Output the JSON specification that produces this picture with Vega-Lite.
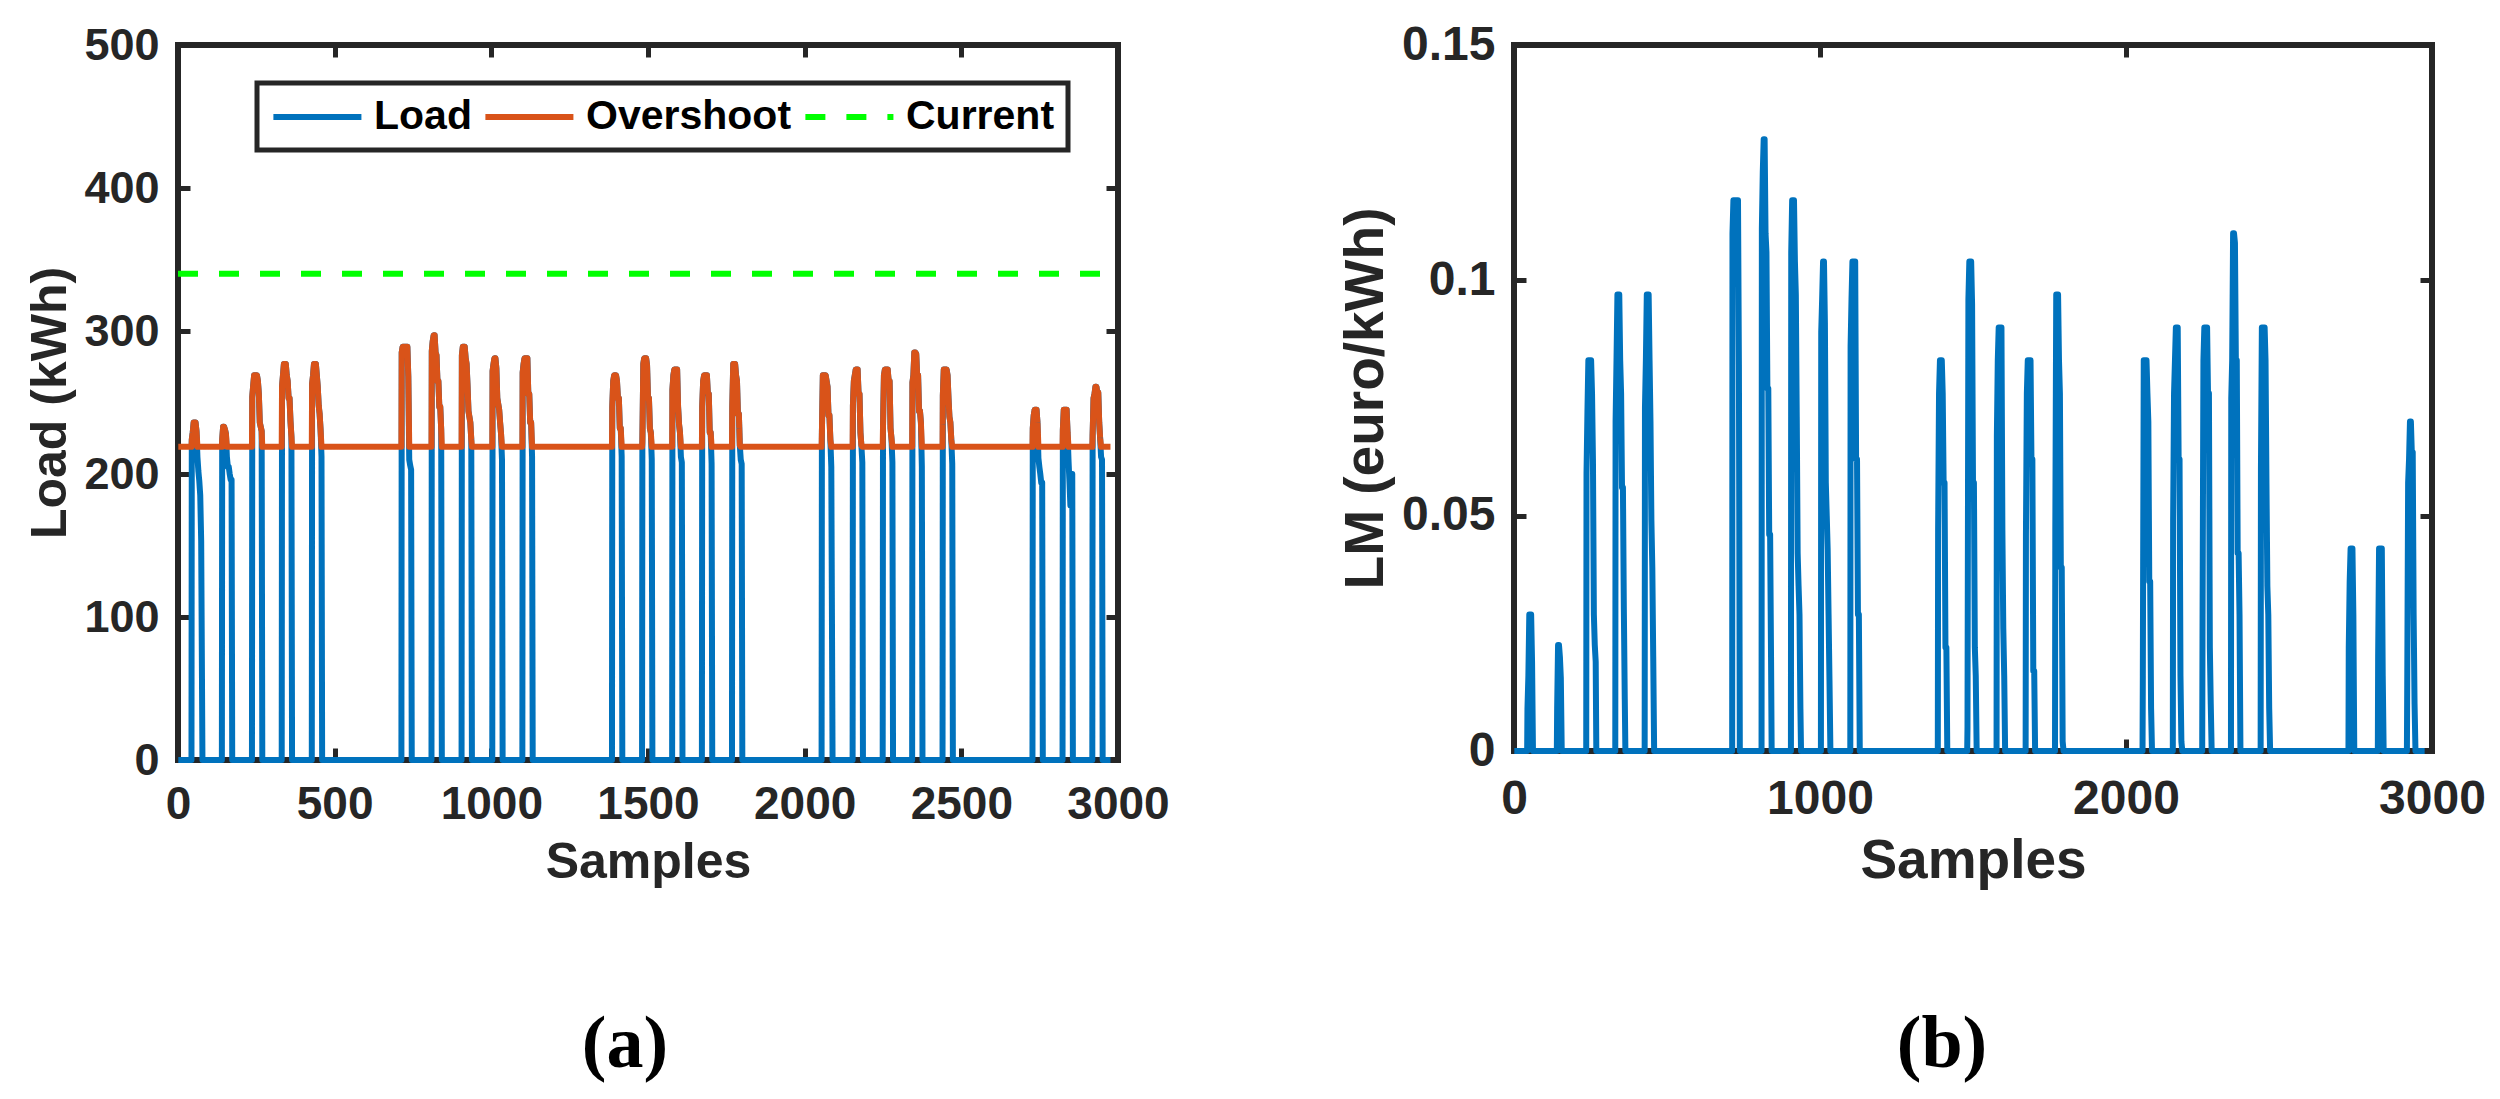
{
  "$schema": "https://vega.github.io/schema/vega-lite/v6.json",
  "background": "white",
  "padding": {"left": 22, "top": 18, "right": 5, "bottom": 5},
  "spacing": 396,
  "bounds": "flush",
  "datasets": {
    "cur": [
      {"s": 0, "series": "Current", "value": 340},
      {"s": 3000, "series": "Current", "value": 340}
    ],
    "main": [
      {"s":1,"Load":0,"Overshoot":219,"LM":0},
      {"s":43,"Load":0,"Overshoot":219,"LM":0},
      {"s":44,"Load":224,"Overshoot":224,"LM":0.009},
      {"s":47,"Load":229,"Overshoot":229,"LM":0.016},
      {"s":50,"Load":236,"Overshoot":236,"LM":0.029},
      {"s":53,"Load":236,"Overshoot":236,"LM":0.029},
      {"s":56,"Load":236,"Overshoot":236,"LM":0.029},
      {"s":59,"Load":230,"Overshoot":230,"LM":0.019},
      {"s":62,"Load":212,"Overshoot":219,"LM":0},
      {"s":65,"Load":202,"Overshoot":219,"LM":0},
      {"s":68,"Load":195,"Overshoot":219,"LM":0},
      {"s":71,"Load":185,"Overshoot":219,"LM":0},
      {"s":74,"Load":153,"Overshoot":219,"LM":0},
      {"s":78,"Load":0,"Overshoot":219,"LM":0},
      {"s":140,"Load":0,"Overshoot":219,"LM":0},
      {"s":141,"Load":224,"Overshoot":224,"LM":0.009},
      {"s":144,"Load":233,"Overshoot":233,"LM":0.0225},
      {"s":147,"Load":233,"Overshoot":233,"LM":0.0225},
      {"s":150,"Load":231,"Overshoot":231,"LM":0.02},
      {"s":153,"Load":228,"Overshoot":228,"LM":0.0156},
      {"s":156,"Load":212,"Overshoot":219,"LM":0},
      {"s":159,"Load":205,"Overshoot":219,"LM":0},
      {"s":162,"Load":205,"Overshoot":219,"LM":0},
      {"s":165,"Load":200,"Overshoot":219,"LM":0},
      {"s":168,"Load":196,"Overshoot":219,"LM":0},
      {"s":171,"Load":196,"Overshoot":219,"LM":0},
      {"s":173,"Load":0,"Overshoot":219,"LM":0},
      {"s":236,"Load":0,"Overshoot":219,"LM":0},
      {"s":237,"Load":254,"Overshoot":254,"LM":0.059},
      {"s":240,"Load":262,"Overshoot":262,"LM":0.072},
      {"s":243,"Load":269,"Overshoot":269,"LM":0.083},
      {"s":246,"Load":269,"Overshoot":269,"LM":0.083},
      {"s":249,"Load":269,"Overshoot":269,"LM":0.083},
      {"s":252,"Load":269,"Overshoot":269,"LM":0.083},
      {"s":255,"Load":265,"Overshoot":265,"LM":0.076},
      {"s":258,"Load":256,"Overshoot":256,"LM":0.062},
      {"s":261,"Load":236,"Overshoot":236,"LM":0.029},
      {"s":264,"Load":233,"Overshoot":233,"LM":0.0225},
      {"s":267,"Load":230,"Overshoot":230,"LM":0.019},
      {"s":269,"Load":0,"Overshoot":219,"LM":0},
      {"s":331,"Load":0,"Overshoot":219,"LM":0},
      {"s":332,"Load":261,"Overshoot":261,"LM":0.07},
      {"s":335,"Load":269,"Overshoot":269,"LM":0.083},
      {"s":338,"Load":277,"Overshoot":277,"LM":0.097},
      {"s":341,"Load":277,"Overshoot":277,"LM":0.097},
      {"s":344,"Load":277,"Overshoot":277,"LM":0.097},
      {"s":347,"Load":269,"Overshoot":269,"LM":0.083},
      {"s":350,"Load":265,"Overshoot":265,"LM":0.076},
      {"s":353,"Load":253,"Overshoot":253,"LM":0.056},
      {"s":356,"Load":253,"Overshoot":253,"LM":0.056},
      {"s":359,"Load":237,"Overshoot":237,"LM":0.03},
      {"s":362,"Load":226,"Overshoot":226,"LM":0.011},
      {"s":364,"Load":0,"Overshoot":219,"LM":0},
      {"s":427,"Load":0,"Overshoot":219,"LM":0},
      {"s":428,"Load":263,"Overshoot":263,"LM":0.073},
      {"s":431,"Load":269,"Overshoot":269,"LM":0.083},
      {"s":434,"Load":277,"Overshoot":277,"LM":0.097},
      {"s":437,"Load":277,"Overshoot":277,"LM":0.097},
      {"s":440,"Load":277,"Overshoot":277,"LM":0.097},
      {"s":443,"Load":269,"Overshoot":269,"LM":0.083},
      {"s":446,"Load":261,"Overshoot":261,"LM":0.07},
      {"s":449,"Load":248,"Overshoot":248,"LM":0.049},
      {"s":452,"Load":242,"Overshoot":242,"LM":0.039},
      {"s":455,"Load":231,"Overshoot":231,"LM":0.02},
      {"s":458,"Load":212,"Overshoot":219,"LM":0},
      {"s":460,"Load":0,"Overshoot":219,"LM":0},
      {"s":713,"Load":0,"Overshoot":219,"LM":0},
      {"s":714,"Load":285,"Overshoot":285,"LM":0.11},
      {"s":717,"Load":289,"Overshoot":289,"LM":0.117},
      {"s":720,"Load":289,"Overshoot":289,"LM":0.117},
      {"s":723,"Load":289,"Overshoot":289,"LM":0.117},
      {"s":726,"Load":289,"Overshoot":289,"LM":0.117},
      {"s":729,"Load":289,"Overshoot":289,"LM":0.117},
      {"s":732,"Load":289,"Overshoot":289,"LM":0.117},
      {"s":735,"Load":268,"Overshoot":268,"LM":0.082},
      {"s":738,"Load":210,"Overshoot":219,"LM":0},
      {"s":741,"Load":206,"Overshoot":219,"LM":0},
      {"s":744,"Load":203,"Overshoot":219,"LM":0},
      {"s":746,"Load":0,"Overshoot":219,"LM":0},
      {"s":809,"Load":0,"Overshoot":219,"LM":0},
      {"s":810,"Load":286,"Overshoot":286,"LM":0.111},
      {"s":813,"Load":293,"Overshoot":293,"LM":0.123},
      {"s":816,"Load":297,"Overshoot":297,"LM":0.13},
      {"s":819,"Load":297,"Overshoot":297,"LM":0.13},
      {"s":822,"Load":285,"Overshoot":285,"LM":0.11},
      {"s":825,"Load":283,"Overshoot":283,"LM":0.106},
      {"s":828,"Load":265,"Overshoot":265,"LM":0.077},
      {"s":831,"Load":265,"Overshoot":265,"LM":0.077},
      {"s":834,"Load":247,"Overshoot":247,"LM":0.046},
      {"s":837,"Load":247,"Overshoot":247,"LM":0.046},
      {"s":840,"Load":231,"Overshoot":231,"LM":0.02},
      {"s":842,"Load":0,"Overshoot":219,"LM":0},
      {"s":905,"Load":0,"Overshoot":219,"LM":0},
      {"s":906,"Load":283,"Overshoot":283,"LM":0.106},
      {"s":909,"Load":289,"Overshoot":289,"LM":0.117},
      {"s":912,"Load":289,"Overshoot":289,"LM":0.117},
      {"s":915,"Load":289,"Overshoot":289,"LM":0.117},
      {"s":918,"Load":281,"Overshoot":281,"LM":0.104},
      {"s":921,"Load":277,"Overshoot":277,"LM":0.097},
      {"s":924,"Load":262,"Overshoot":262,"LM":0.071},
      {"s":927,"Load":244,"Overshoot":244,"LM":0.042},
      {"s":930,"Load":240,"Overshoot":240,"LM":0.035},
      {"s":933,"Load":236,"Overshoot":236,"LM":0.029},
      {"s":936,"Load":224,"Overshoot":224,"LM":0.009},
      {"s":938,"Load":0,"Overshoot":219,"LM":0},
      {"s":1003,"Load":0,"Overshoot":219,"LM":0},
      {"s":1004,"Load":272,"Overshoot":272,"LM":0.089},
      {"s":1007,"Load":277,"Overshoot":277,"LM":0.096},
      {"s":1010,"Load":281,"Overshoot":281,"LM":0.104},
      {"s":1013,"Load":281,"Overshoot":281,"LM":0.104},
      {"s":1016,"Load":274,"Overshoot":274,"LM":0.091},
      {"s":1019,"Load":253,"Overshoot":253,"LM":0.057},
      {"s":1022,"Load":249,"Overshoot":249,"LM":0.05},
      {"s":1025,"Load":245,"Overshoot":245,"LM":0.043},
      {"s":1028,"Load":236,"Overshoot":236,"LM":0.029},
      {"s":1031,"Load":228,"Overshoot":228,"LM":0.015},
      {"s":1034,"Load":210,"Overshoot":219,"LM":0},
      {"s":1036,"Load":0,"Overshoot":219,"LM":0},
      {"s":1099,"Load":0,"Overshoot":219,"LM":0},
      {"s":1100,"Load":271,"Overshoot":271,"LM":0.086},
      {"s":1103,"Load":277,"Overshoot":277,"LM":0.096},
      {"s":1106,"Load":281,"Overshoot":281,"LM":0.104},
      {"s":1109,"Load":281,"Overshoot":281,"LM":0.104},
      {"s":1112,"Load":281,"Overshoot":281,"LM":0.104},
      {"s":1115,"Load":281,"Overshoot":281,"LM":0.104},
      {"s":1118,"Load":256,"Overshoot":256,"LM":0.062},
      {"s":1121,"Load":256,"Overshoot":256,"LM":0.062},
      {"s":1124,"Load":236,"Overshoot":236,"LM":0.029},
      {"s":1127,"Load":236,"Overshoot":236,"LM":0.029},
      {"s":1130,"Load":212,"Overshoot":219,"LM":0},
      {"s":1132,"Load":0,"Overshoot":219,"LM":0},
      {"s":1385,"Load":0,"Overshoot":219,"LM":0},
      {"s":1386,"Load":247,"Overshoot":247,"LM":0.047},
      {"s":1389,"Load":265,"Overshoot":265,"LM":0.076},
      {"s":1392,"Load":269,"Overshoot":269,"LM":0.083},
      {"s":1395,"Load":269,"Overshoot":269,"LM":0.083},
      {"s":1398,"Load":269,"Overshoot":269,"LM":0.083},
      {"s":1401,"Load":265,"Overshoot":265,"LM":0.076},
      {"s":1404,"Load":253,"Overshoot":253,"LM":0.057},
      {"s":1407,"Load":253,"Overshoot":253,"LM":0.057},
      {"s":1410,"Load":232,"Overshoot":232,"LM":0.022},
      {"s":1413,"Load":232,"Overshoot":232,"LM":0.022},
      {"s":1416,"Load":212,"Overshoot":219,"LM":0},
      {"s":1418,"Load":0,"Overshoot":219,"LM":0},
      {"s":1481,"Load":0,"Overshoot":219,"LM":0},
      {"s":1482,"Load":222,"Overshoot":222,"LM":0.005},
      {"s":1485,"Load":277,"Overshoot":277,"LM":0.096},
      {"s":1488,"Load":281,"Overshoot":281,"LM":0.104},
      {"s":1491,"Load":281,"Overshoot":281,"LM":0.104},
      {"s":1494,"Load":281,"Overshoot":281,"LM":0.104},
      {"s":1497,"Load":276,"Overshoot":276,"LM":0.095},
      {"s":1500,"Load":253,"Overshoot":253,"LM":0.057},
      {"s":1503,"Load":253,"Overshoot":253,"LM":0.057},
      {"s":1506,"Load":232,"Overshoot":232,"LM":0.022},
      {"s":1509,"Load":229,"Overshoot":229,"LM":0.016},
      {"s":1512,"Load":210,"Overshoot":219,"LM":0},
      {"s":1514,"Load":0,"Overshoot":219,"LM":0},
      {"s":1577,"Load":0,"Overshoot":219,"LM":0},
      {"s":1578,"Load":259,"Overshoot":259,"LM":0.067},
      {"s":1581,"Load":269,"Overshoot":269,"LM":0.083},
      {"s":1584,"Load":273,"Overshoot":273,"LM":0.09},
      {"s":1587,"Load":273,"Overshoot":273,"LM":0.09},
      {"s":1590,"Load":273,"Overshoot":273,"LM":0.09},
      {"s":1593,"Load":273,"Overshoot":273,"LM":0.09},
      {"s":1596,"Load":247,"Overshoot":247,"LM":0.047},
      {"s":1599,"Load":235,"Overshoot":235,"LM":0.026},
      {"s":1602,"Load":229,"Overshoot":229,"LM":0.016},
      {"s":1605,"Load":212,"Overshoot":219,"LM":0},
      {"s":1608,"Load":208,"Overshoot":219,"LM":0},
      {"s":1610,"Load":0,"Overshoot":219,"LM":0},
      {"s":1672,"Load":0,"Overshoot":219,"LM":0},
      {"s":1673,"Load":247,"Overshoot":247,"LM":0.046},
      {"s":1676,"Load":265,"Overshoot":265,"LM":0.076},
      {"s":1679,"Load":269,"Overshoot":269,"LM":0.083},
      {"s":1682,"Load":269,"Overshoot":269,"LM":0.083},
      {"s":1685,"Load":269,"Overshoot":269,"LM":0.083},
      {"s":1688,"Load":269,"Overshoot":269,"LM":0.083},
      {"s":1691,"Load":256,"Overshoot":256,"LM":0.062},
      {"s":1694,"Load":256,"Overshoot":256,"LM":0.062},
      {"s":1697,"Load":229,"Overshoot":229,"LM":0.017},
      {"s":1700,"Load":229,"Overshoot":229,"LM":0.017},
      {"s":1703,"Load":207,"Overshoot":219,"LM":0},
      {"s":1705,"Load":0,"Overshoot":219,"LM":0},
      {"s":1768,"Load":0,"Overshoot":219,"LM":0},
      {"s":1769,"Load":247,"Overshoot":247,"LM":0.047},
      {"s":1772,"Load":277,"Overshoot":277,"LM":0.097},
      {"s":1775,"Load":277,"Overshoot":277,"LM":0.097},
      {"s":1778,"Load":277,"Overshoot":277,"LM":0.097},
      {"s":1781,"Load":269,"Overshoot":269,"LM":0.083},
      {"s":1784,"Load":265,"Overshoot":265,"LM":0.076},
      {"s":1787,"Load":242,"Overshoot":242,"LM":0.039},
      {"s":1790,"Load":242,"Overshoot":242,"LM":0.039},
      {"s":1793,"Load":220,"Overshoot":220,"LM":0.002},
      {"s":1796,"Load":210,"Overshoot":219,"LM":0},
      {"s":1799,"Load":207,"Overshoot":219,"LM":0},
      {"s":1801,"Load":0,"Overshoot":219,"LM":0},
      {"s":2054,"Load":0,"Overshoot":219,"LM":0},
      {"s":2055,"Load":229,"Overshoot":229,"LM":0.016},
      {"s":2058,"Load":269,"Overshoot":269,"LM":0.083},
      {"s":2061,"Load":269,"Overshoot":269,"LM":0.083},
      {"s":2064,"Load":269,"Overshoot":269,"LM":0.083},
      {"s":2067,"Load":269,"Overshoot":269,"LM":0.083},
      {"s":2070,"Load":265,"Overshoot":265,"LM":0.076},
      {"s":2073,"Load":261,"Overshoot":261,"LM":0.07},
      {"s":2076,"Load":241,"Overshoot":241,"LM":0.036},
      {"s":2079,"Load":241,"Overshoot":241,"LM":0.036},
      {"s":2082,"Load":224,"Overshoot":224,"LM":0.009},
      {"s":2085,"Load":205,"Overshoot":219,"LM":0},
      {"s":2089,"Load":0,"Overshoot":219,"LM":0},
      {"s":2153,"Load":0,"Overshoot":219,"LM":0},
      {"s":2154,"Load":248,"Overshoot":248,"LM":0.049},
      {"s":2157,"Load":265,"Overshoot":265,"LM":0.076},
      {"s":2160,"Load":269,"Overshoot":269,"LM":0.083},
      {"s":2163,"Load":273,"Overshoot":273,"LM":0.09},
      {"s":2166,"Load":273,"Overshoot":273,"LM":0.09},
      {"s":2169,"Load":273,"Overshoot":273,"LM":0.09},
      {"s":2172,"Load":256,"Overshoot":256,"LM":0.062},
      {"s":2175,"Load":256,"Overshoot":256,"LM":0.062},
      {"s":2178,"Load":229,"Overshoot":229,"LM":0.016},
      {"s":2181,"Load":220,"Overshoot":220,"LM":0.002},
      {"s":2184,"Load":208,"Overshoot":219,"LM":0},
      {"s":2186,"Load":0,"Overshoot":219,"LM":0},
      {"s":2249,"Load":0,"Overshoot":219,"LM":0},
      {"s":2250,"Load":233,"Overshoot":233,"LM":0.024},
      {"s":2253,"Load":269,"Overshoot":269,"LM":0.083},
      {"s":2256,"Load":273,"Overshoot":273,"LM":0.09},
      {"s":2259,"Load":273,"Overshoot":273,"LM":0.09},
      {"s":2262,"Load":273,"Overshoot":273,"LM":0.09},
      {"s":2265,"Load":273,"Overshoot":273,"LM":0.09},
      {"s":2268,"Load":265,"Overshoot":265,"LM":0.076},
      {"s":2271,"Load":265,"Overshoot":265,"LM":0.076},
      {"s":2274,"Load":232,"Overshoot":232,"LM":0.022},
      {"s":2277,"Load":225,"Overshoot":225,"LM":0.01},
      {"s":2280,"Load":208,"Overshoot":219,"LM":0},
      {"s":2282,"Load":0,"Overshoot":219,"LM":0},
      {"s":2343,"Load":0,"Overshoot":219,"LM":0},
      {"s":2344,"Load":264,"Overshoot":264,"LM":0.075},
      {"s":2347,"Load":269,"Overshoot":269,"LM":0.083},
      {"s":2350,"Load":285,"Overshoot":285,"LM":0.11},
      {"s":2353,"Load":285,"Overshoot":285,"LM":0.11},
      {"s":2356,"Load":284,"Overshoot":284,"LM":0.108},
      {"s":2359,"Load":269,"Overshoot":269,"LM":0.083},
      {"s":2362,"Load":269,"Overshoot":269,"LM":0.083},
      {"s":2365,"Load":244,"Overshoot":244,"LM":0.042},
      {"s":2368,"Load":244,"Overshoot":244,"LM":0.042},
      {"s":2371,"Load":236,"Overshoot":236,"LM":0.029},
      {"s":2374,"Load":205,"Overshoot":219,"LM":0},
      {"s":2376,"Load":0,"Overshoot":219,"LM":0},
      {"s":2440,"Load":0,"Overshoot":219,"LM":0},
      {"s":2441,"Load":255,"Overshoot":255,"LM":0.06},
      {"s":2444,"Load":273,"Overshoot":273,"LM":0.09},
      {"s":2447,"Load":273,"Overshoot":273,"LM":0.09},
      {"s":2450,"Load":273,"Overshoot":273,"LM":0.09},
      {"s":2453,"Load":273,"Overshoot":273,"LM":0.09},
      {"s":2456,"Load":269,"Overshoot":269,"LM":0.083},
      {"s":2459,"Load":253,"Overshoot":253,"LM":0.057},
      {"s":2462,"Load":240,"Overshoot":240,"LM":0.035},
      {"s":2465,"Load":236,"Overshoot":236,"LM":0.029},
      {"s":2468,"Load":224,"Overshoot":224,"LM":0.009},
      {"s":2471,"Load":207,"Overshoot":219,"LM":0},
      {"s":2473,"Load":0,"Overshoot":219,"LM":0},
      {"s":2727,"Load":0,"Overshoot":219,"LM":0},
      {"s":2728,"Load":232,"Overshoot":232,"LM":0.022},
      {"s":2731,"Load":241,"Overshoot":241,"LM":0.036},
      {"s":2734,"Load":245,"Overshoot":245,"LM":0.043},
      {"s":2737,"Load":245,"Overshoot":245,"LM":0.043},
      {"s":2740,"Load":245,"Overshoot":245,"LM":0.043},
      {"s":2743,"Load":236,"Overshoot":236,"LM":0.029},
      {"s":2746,"Load":211,"Overshoot":219,"LM":0},
      {"s":2749,"Load":205,"Overshoot":219,"LM":0},
      {"s":2752,"Load":200,"Overshoot":219,"LM":0},
      {"s":2755,"Load":194,"Overshoot":219,"LM":0},
      {"s":2758,"Load":194,"Overshoot":219,"LM":0},
      {"s":2760,"Load":0,"Overshoot":219,"LM":0},
      {"s":2823,"Load":0,"Overshoot":219,"LM":0},
      {"s":2824,"Load":231,"Overshoot":231,"LM":0.02},
      {"s":2827,"Load":245,"Overshoot":245,"LM":0.043},
      {"s":2830,"Load":245,"Overshoot":245,"LM":0.043},
      {"s":2833,"Load":245,"Overshoot":245,"LM":0.043},
      {"s":2836,"Load":245,"Overshoot":245,"LM":0.043},
      {"s":2839,"Load":229,"Overshoot":229,"LM":0.016},
      {"s":2842,"Load":210,"Overshoot":219,"LM":0},
      {"s":2845,"Load":195,"Overshoot":219,"LM":0},
      {"s":2848,"Load":178,"Overshoot":219,"LM":0},
      {"s":2851,"Load":190,"Overshoot":219,"LM":0},
      {"s":2854,"Load":200,"Overshoot":219,"LM":0},
      {"s":2856,"Load":0,"Overshoot":219,"LM":0},
      {"s":2918,"Load":0,"Overshoot":219,"LM":0},
      {"s":2919,"Load":227,"Overshoot":227,"LM":0.013},
      {"s":2922,"Load":253,"Overshoot":253,"LM":0.057},
      {"s":2925,"Load":256,"Overshoot":256,"LM":0.062},
      {"s":2928,"Load":261,"Overshoot":261,"LM":0.07},
      {"s":2931,"Load":261,"Overshoot":261,"LM":0.07},
      {"s":2934,"Load":257,"Overshoot":257,"LM":0.0635},
      {"s":2937,"Load":257,"Overshoot":257,"LM":0.0635},
      {"s":2940,"Load":236,"Overshoot":236,"LM":0.029},
      {"s":2943,"Load":225,"Overshoot":225,"LM":0.01},
      {"s":2946,"Load":212,"Overshoot":219,"LM":0},
      {"s":2949,"Load":210,"Overshoot":219,"LM":0},
      {"s":2951,"Load":0,"Overshoot":219,"LM":0},
      {"s":2976,"Load":0,"Overshoot":219,"LM":0}
    ]
  },
  "hconcat": [
    {
      "width": 940,
      "height": 715,
      "title": {"text": "(a)", "orient": "bottom", "frame": "group", "anchor": "middle", "offset": 122, "dx": -23, "font": "Liberation Serif", "fontSize": 74, "fontWeight": "bold", "color": "black"},
      "layer": [
        {
          "data": {"name": "main"},
          "transform": [{"fold": ["Load", "Overshoot"], "as": ["series", "value"]}],
          "mark": {"type": "line", "strokeWidth": 6, "strokeJoin": "round"},
          "encoding": {
            "x": {"field": "s", "type": "quantitative", "scale": {"domain": [0, 3000], "nice": false},
              "axis": {"orient": "bottom", "values": [0, 500, 1000, 1500, 2000, 2500, 3000], "format": "d", "title": "Samples", "labelFontSize": 46, "titleFontSize": 50, "labelPadding": 34, "titlePadding": 10}},
            "y": {"field": "value", "type": "quantitative", "scale": {"domain": [0, 500], "nice": false},
              "axis": {"orient": "left", "values": [0, 100, 200, 300, 400, 500], "title": "Load (kWh)", "labelFontSize": 45, "titleFontSize": 50, "labelPadding": 31, "titlePadding": 8}},
            "color": {"field": "series", "type": "nominal", "scale": {"domain": ["Load", "Overshoot", "Current"], "range": ["#0072BD", "#D95319", "#00FF00"]},
              "legend": {"orient": "none", "legendX": 79, "legendY": 38, "direction": "horizontal", "columns": 3, "title": null}},
            "strokeDash": {"field": "series", "type": "nominal", "scale": {"domain": ["Load", "Overshoot", "Current"], "range": [[1, 0], [1, 0], [20, 21]]},
              "legend": {"orient": "none", "legendX": 79, "legendY": 38, "direction": "horizontal", "columns": 3, "title": null}}
          }
        },
        {
          "data": {"name": "cur"},
          "mark": {"type": "line", "strokeWidth": 6},
          "encoding": {
            "x": {"field": "s", "type": "quantitative",
              "axis": {"orient": "top", "values": [0, 500, 1000, 1500, 2000, 2500, 3000], "labels": false, "title": null}},
            "y": {"field": "value", "type": "quantitative",
              "axis": {"orient": "right", "values": [0, 100, 200, 300, 400, 500], "labels": false, "title": null}},
            "color": {"field": "series", "type": "nominal"},
            "strokeDash": {"field": "series", "type": "nominal"}
          }
        }
      ]
    },
    {
      "width": 918,
      "height": 706,
      "title": {"text": "(b)", "orient": "bottom", "frame": "group", "anchor": "middle", "offset": 121, "dx": -31, "font": "Liberation Serif", "fontSize": 74, "fontWeight": "bold", "color": "black"},
      "data": {"name": "main"},
      "layer": [
        {
          "mark": {"type": "line", "strokeWidth": 6, "strokeJoin": "round", "color": "#0072BD"},
          "encoding": {
            "x": {"field": "s", "type": "quantitative", "scale": {"domain": [0, 3000], "nice": false},
              "axis": {"orient": "bottom", "values": [0, 1000, 2000, 3000], "format": "d", "title": "Samples", "labelFontSize": 48, "titleFontSize": 55, "labelPadding": 36, "titlePadding": 11}},
            "y": {"field": "LM", "type": "quantitative", "scale": {"domain": [0, 0.15], "nice": false},
              "axis": {"orient": "left", "values": [0, 0.05, 0.1, 0.15], "labelExpr": "'' + datum.value", "title": "LM (euro/kWh)", "labelFontSize": 48, "titleFontSize": 55, "labelPadding": 31, "titlePadding": 7}}
          }
        },
        {
          "mark": {"type": "line", "opacity": 0},
          "encoding": {
            "x": {"field": "s", "type": "quantitative",
              "axis": {"orient": "top", "values": [0, 1000, 2000, 3000], "labels": false, "title": null}},
            "y": {"field": "LM", "type": "quantitative",
              "axis": {"orient": "right", "values": [0, 0.05, 0.1, 0.15], "labels": false, "title": null}}
          }
        }
      ]
    }
  ],
  "config": {
    "view": {"stroke": "#262626", "strokeWidth": 6},
    "axis": {
      "grid": false, "domain": false,
      "ticks": true, "tickSize": -12, "tickWidth": 5, "tickColor": "#262626",
      "labelColor": "#262626", "labelFont": "Liberation Sans", "labelFontWeight": "bold",
      "labelFlush": false, "labelOverlap": false,
      "titleColor": "#262626", "titleFont": "Liberation Sans", "titleFontWeight": "bold"
    },
    "legend": {
      "strokeColor": "#262626", "strokeWidth": 5, "fillColor": "white", "padding": 13,
      "labelFont": "Liberation Sans", "labelFontWeight": "bold", "labelFontSize": 41, "labelColor": "black",
      "labelOffset": 62, "labelLimit": 500, "symbolSize": 1240, "symbolStrokeWidth": 6, "symbolType": "M-1,0H4",
      "columnPadding": 1, "rowPadding": 0
    }
  }
}
